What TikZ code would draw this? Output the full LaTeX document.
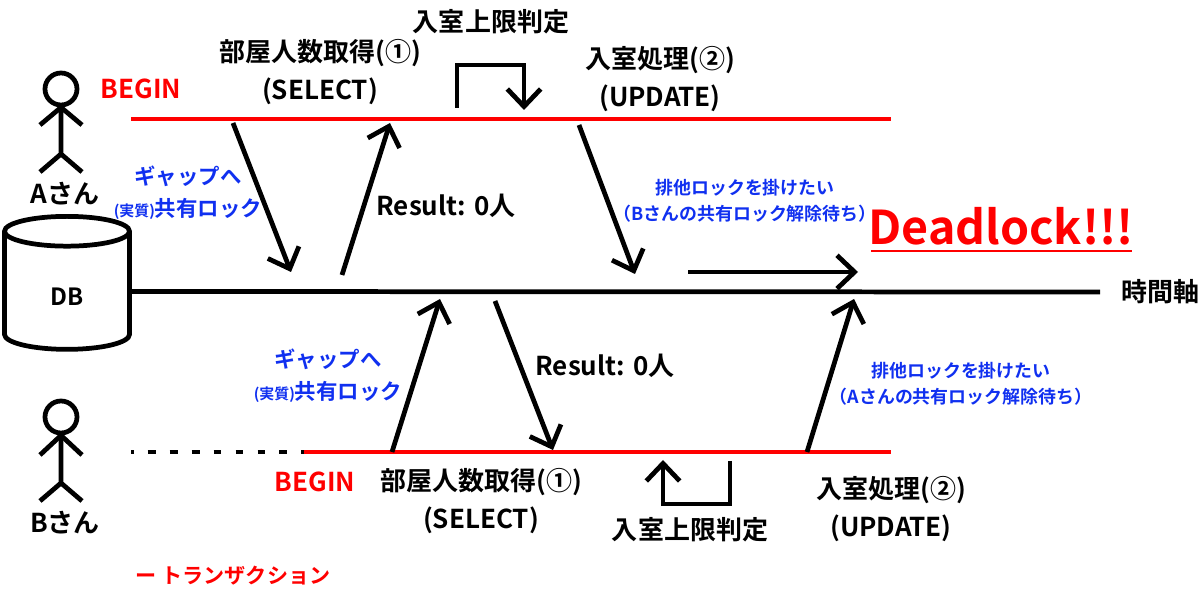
\documentclass[tikz,border=0pt]{standalone}
\usepackage{fontspec}
\setmainfont{Noto Sans CJK JP}[UprightFont=* Bold,BoldFont=* Bold]
\usetikzlibrary{arrows.meta,shapes.geometric}
\definecolor{lockblue}{RGB}{16,48,240}

\begin{document}
\begin{tikzpicture}[x=0.02cm,y=-0.02cm]

        % 定義
        \tikzstyle{label} = [inner sep=0pt, align=center, font=\fontsize{14.8}{21.3}\selectfont]
        \tikzstyle{redlabel} = [label, text=red]
        \tikzstyle{note} = [inner sep=0pt, align=center, text=lockblue, font=\fontsize{10.2}{15}\selectfont]
        \tikzstyle{gap} = [inner sep=0pt, align=center, text=lockblue, font=\fontsize{12.2}{18}\selectfont]
        \tikzstyle{person} = [line width=2.7pt, line cap=butt]
        \tikzstyle{head} = [circle, draw, line width=2.7pt, minimum size=0.64cm, inner sep=0pt]
        \tikzstyle{trans} = [draw=red, line width=2.7pt]
        \tikzstyle{arrow} = [line width=2.7pt, -{Straight Barb[length=10pt,width=19pt,line width=2.7pt]}]
        \useasboundingbox (0,-1) rectangle (1200,589);

        % 人物 A
        \node (heada) [head] at (61,88) {};
        \coordinate (hipa) at (61,153);
        \coordinate (armal) at (40,124);
        \coordinate (armar) at (82,124);
        \coordinate (legal) at (40,171);
        \coordinate (legar) at (82,171);
        \draw [person] (heada) -- (hipa) (legal) -- (hipa) -- (legar);
        \draw [person] (armal) -- (heada.south) -- (armar);
        \node (namea) [label] at (65,193) {Aさん};

        % 人物 B
        \node (headb) [head] at (61,416) {};
        \coordinate (hipb) at (61,482);
        \coordinate (armbl) at (40,454);
        \coordinate (armbr) at (82,454);
        \coordinate (legbl) at (40,500);
        \coordinate (legbr) at (82,500);
        \draw [person] (headb) -- (hipb) (legbl) -- (hipb) -- (legbr);
        \draw [person] (armbl) -- (headb.south) -- (armbr);
        \node (nameb) [label] at (65,522) {Bさん};

        % DB と時間軸
        \node (db) [cylinder, shape border rotate=90, draw, line width=2.7pt, aspect=0.9, minimum width=2.5cm, minimum height=2.66cm, inner sep=0pt, font=\fontsize{13.5}{16}\selectfont] at (67,290.5) {\raisebox{-8pt}[0pt][0pt]{DB}};
        \coordinate (axisend) at (1100,291);
        \draw [line width=2.7pt] (db.east) -- (axisend);
        \node (axis) [label] at (1160,291) {時間軸};

        % トランザクション
        \coordinate (astart) at (131,118);
        \coordinate (aend) at (891,118);
        \coordinate (bwait) at (131,451);
        \coordinate (bstart) at (304,451);
        \coordinate (bend) at (891,451);
        \draw [trans] (astart) -- (aend);
        \draw [trans] (bstart) -- (bend);
        \draw [line width=2.7pt, dash pattern=on 4.5pt off 8pt, dash phase=3pt] (bwait) -- (bstart);
        \node (begina) [redlabel] at (141,88) {BEGIN};
        \node (beginb) [redlabel] at (315,481) {BEGIN};
        \node (legend) [redlabel, font=\fontsize{12}{16}\selectfont] at (233,575) {ー トランザクション};

        % A さんの処理
        \node (selecta) [label] at (320,71) {部屋人数取得(①)\\(SELECT)};
        \node (limita) [label] at (491,21) {入室上限判定};
        \node (updatea) [label] at (660,78) {入室処理(②)\\(UPDATE)};
        \node (gapa) [gap] at (188,192) {ギャップへ\\{\fontsize{8.5}{12}\selectfont (実質)}共有ロック};
        \node (resulta) [label] at (446,205) {Result: 0人};
        \node (waita) [note] at (745,200) {排他ロックを掛けたい\\（Bさんの共有ロック解除待ち）};

        % B さんの処理
        \node (selectb) [label] at (481,500) {部屋人数取得(①)\\(SELECT)};
        \node (limitb) [label] at (690,529) {入室上限判定};
        \node (updateb) [label] at (891,508) {入室処理(②)\\(UPDATE)};
        \node (gapb) [gap] at (328,375) {ギャップへ\\{\fontsize{8.5}{12}\selectfont (実質)}共有ロック};
        \node (resultb) [label] at (605,365) {Result: 0人};
        \node (waitb) [note] at (961,383) {排他ロックを掛けたい\\（Aさんの共有ロック解除待ち）};

        % Deadlock
        \node (dead) [inner sep=0pt, text=red, font=\fontsize{26.5}{30}\selectfont] at (1001,225) {Deadlock!!!};
        \coordinate (deadl) at (871,250);
        \coordinate (deadr) at (1132,250);
        \draw [draw=red, line width=1.7pt] (deadl) -- (deadr);
        \coordinate (ds) at (688,271);
        \coordinate (de) at (858,271);
        \draw [arrow] (ds) -- (de);

        % 矢印
        \coordinate (a1s) at (233,122);
        \coordinate (a1e) at (291,271);
        \coordinate (a2s) at (342,274);
        \coordinate (a2e) at (390,122);
        \coordinate (a3s) at (579,124);
        \coordinate (a3e) at (635,273);
        \coordinate (b1s) at (392,451);
        \coordinate (b1e) at (440,298);
        \coordinate (b2s) at (495,300);
        \coordinate (b2e) at (553,449);
        \coordinate (b3s) at (807,451);
        \coordinate (b3e) at (854,298);
        \draw [arrow] (a1s) -- (a1e);
        \draw [arrow] (a2s) -- (a2e);
        \draw [arrow] (a3s) -- (a3e);
        \draw [arrow] (b1s) -- (b1e);
        \draw [arrow] (b2s) -- (b2e);
        \draw [arrow] (b3s) -- (b3e);

        % 判定のループ
        \coordinate (la1) at (457,107);
        \coordinate (la2) at (457,64);
        \coordinate (la3) at (524,64);
        \coordinate (la4) at (524,109);
        \draw [arrow] (la1) -- (la2) -- (la3) -- (la4);
        \coordinate (lb1) at (730,460);
        \coordinate (lb2) at (730,503);
        \coordinate (lb3) at (663,503);
        \coordinate (lb4) at (663,459);
        \draw [arrow] (lb1) -- (lb2) -- (lb3) -- (lb4);

    \end{tikzpicture}
\end{document}
